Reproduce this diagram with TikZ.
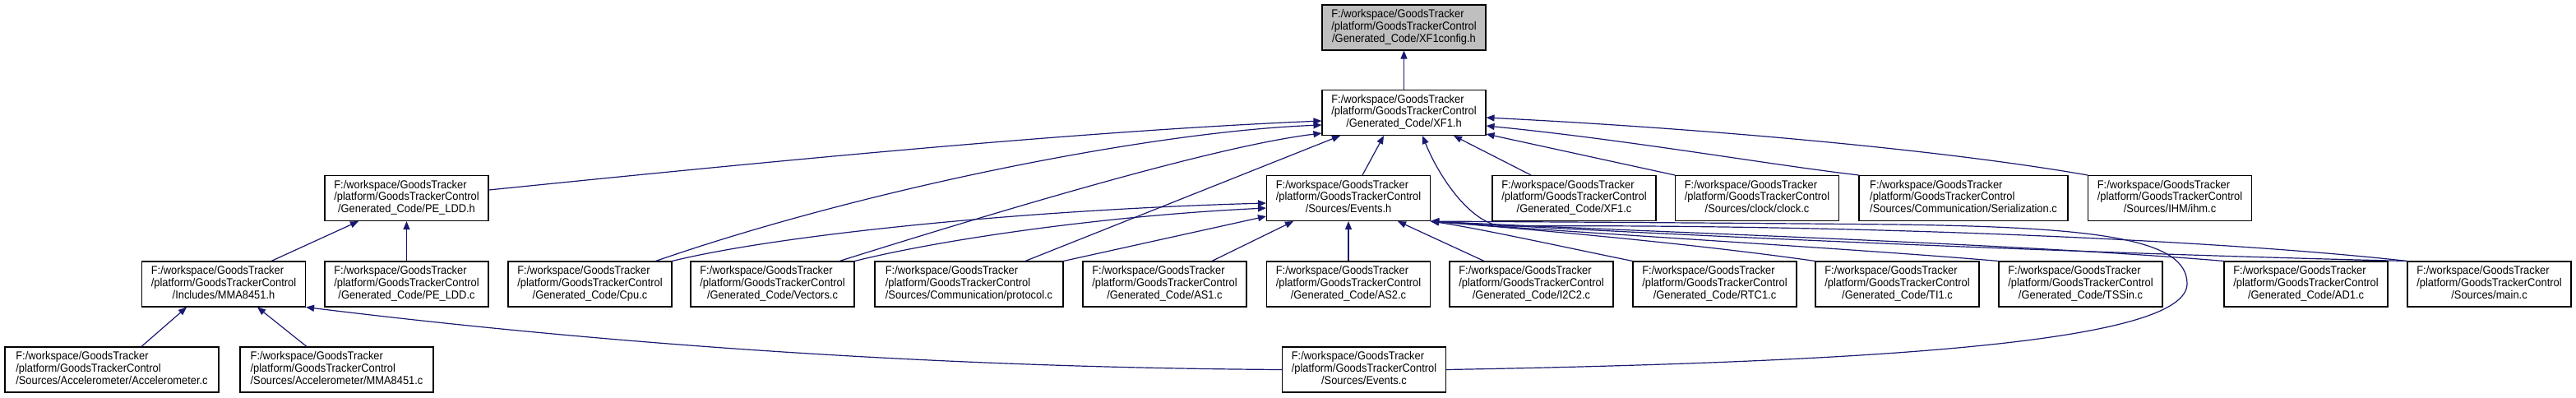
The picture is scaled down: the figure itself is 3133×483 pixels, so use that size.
\documentclass[tikz,border=0pt]{standalone}
\usepackage{fontspec}
\setmainfont{Liberation Sans}[FakeStretch=0.92]
\usetikzlibrary{arrows.meta}
\definecolor{edgeblue}{RGB}{25,25,112}
\definecolor{headgray}{RGB}{191,191,191}
\newcommand\lbl[1]{\begin{tabular}{@{}l@{}}F:/workspace/GoodsTracker\\/platform/GoodsTrackerControl\\\multicolumn{1}{@{}c@{}}{#1}\end{tabular}}
\renewcommand\arraystretch{1}
\begin{document}
\begin{tikzpicture}[x=1pt,y=-1pt,
  filebox/.style={draw=black, line width=1.1pt, fill=white, minimum width=199pt, minimum height=55pt, inner sep=0pt, font=\fontsize{14}{14.7}\selectfont, text=black},
  edge/.style={draw=edgeblue, line width=1.2pt, -{Triangle[length=10pt,width=8pt]}}]
\useasboundingbox[fill=white] (0,0) rectangle (3133,483);
% row 0
\node[filebox, fill=headgray] (cfg) at (1707.5,33.5) {\lbl{/Generated\_Code/XF1config.h}};
% row 1
\node[filebox] (xfh) at (1707.5,137) {\lbl{/Generated\_Code/XF1.h}};
% row 2
\node[filebox] (peh) at (494.5,241) {\lbl{/Generated\_Code/PE\_LDD.h}};
\node[filebox] (evh) at (1640,241) {\lbl{/Sources/Events.h}};
\node[filebox] (xfc) at (1914.5,241) {\lbl{/Generated\_Code/XF1.c}};
\node[filebox] (clk) at (2137,241) {\lbl{/Sources/clock/clock.c}};
\node[filebox, minimum width=254pt] (ser) at (2388,241) {\lbl{/Sources/Communication/Serialization.c}};
\node[filebox] (ihm) at (2639,241) {\lbl{/Sources/IHM/ihm.c}};
% row 3
\node[filebox] (mmh) at (272,345.5) {\lbl{/Includes/MMA8451.h}};
\node[filebox] (pec) at (494.5,345.5) {\lbl{/Generated\_Code/PE\_LDD.c}};
\node[filebox] (cpu) at (717.5,345.5) {\lbl{/Generated\_Code/Cpu.c}};
\node[filebox] (vec) at (939.5,345.5) {\lbl{/Generated\_Code/Vectors.c}};
\node[filebox, minimum width=229pt] (pro) at (1178.5,345.5) {\lbl{/Sources/Communication/protocol.c}};
\node[filebox] (as1) at (1416.5,345.5) {\lbl{/Generated\_Code/AS1.c}};
\node[filebox] (as2) at (1640,345.5) {\lbl{/Generated\_Code/AS2.c}};
\node[filebox] (i2c) at (1862.5,345.5) {\lbl{/Generated\_Code/I2C2.c}};
\node[filebox] (rtc) at (2085.5,345.5) {\lbl{/Generated\_Code/RTC1.c}};
\node[filebox] (ti1) at (2307.5,345.5) {\lbl{/Generated\_Code/TI1.c}};
\node[filebox] (tss) at (2530.5,345.5) {\lbl{/Generated\_Code/TSSin.c}};
\node[filebox] (ad1) at (2804.5,345.5) {\lbl{/Generated\_Code/AD1.c}};
\node[filebox] (mnc) at (3027.5,345.5) {\lbl{/Sources/main.c}};
% row 4
\node[filebox, minimum width=260pt] (acc) at (136,449.5) {\lbl{/Sources/Accelerometer/Accelerometer.c}};
\node[filebox, minimum width=235pt] (mmc) at (409.5,449.5) {\lbl{/Sources/Accelerometer/MMA8451.c}};
\node[filebox] (evc) at (1659,449.5) {\lbl{/Sources/Events.c}};
% edges to XF1config.h
\draw[edge] (xfh.north) -- (cfg.south);
% edges to XF1.h
\draw[edge] ([yshift=10pt]peh.east) .. controls (900,200) and (1300,160) .. ([yshift=-10pt]xfh.west);
\draw[edge] ([xshift=80pt]cpu.north) .. controls (1050,230) and (1400,160) .. ([yshift=-15pt]xfh.west);
\draw[edge] ([xshift=81.5pt]vec.north) .. controls (1300,230) and (1500,175) .. ([yshift=-25pt]xfh.west);
\draw[edge] ([xshift=68.5pt]pro.north) -- ([xshift=-77.5pt]xfh.south);
\draw[edge] ([xshift=17pt]evh.north) -- ([xshift=-24.5pt]xfh.south);
\draw[edge] ([xshift=-52.5pt]xfc.north) -- ([xshift=60.5pt]xfh.south);
\draw[edge] (clk.north west) -- ([yshift=-26pt]xfh.east);
\draw[edge] (ser.north west) .. controls (2150,200) and (1980,170) .. ([yshift=-16pt]xfh.east);
\draw[edge] (ihm.north west) .. controls (2350,180) and (2050,155) .. ([yshift=-6pt]xfh.east);
\draw[edge] (mnc.north west) .. controls (2700,292) and (2250,272) .. (1830,275)
  .. controls (1790,275) and (1750,215) .. ([xshift=22.5pt]xfh.south);
% edges to Events.h
\draw[edge] (cpu.north east) .. controls (950,285) and (1250,255) .. ([yshift=-6pt]evh.west);
\draw[edge] (vec.north east) .. controls (1150,290) and (1350,262) .. ([yshift=-12pt]evh.west);
\draw[edge] (pro.north east) -- ([yshift=-22pt]evh.west);
\draw[edge] ([xshift=57.5pt]as1.north) -- ([xshift=-67pt]evh.south);
\draw[edge] (as2.north) -- (evh.south);
\draw[edge] ([xshift=-57.5pt]i2c.north) -- ([xshift=60pt]evh.south);
\draw[edge] (rtc.north west) .. controls (1900,300) and (1800,278) .. (evh.south east);
\draw[edge] (ti1.north west) .. controls (2050,295) and (1850,278) .. (evh.south east);
\draw[edge] (tss.north west) .. controls (2250,302) and (1900,282) .. (evh.south east);
\draw[edge] (ad1.north west) .. controls (2450,296) and (2000,282) .. (evh.south east);
\draw[edge] (mnc.north west) .. controls (2600,310) and (2100,290) .. (evh.south east);
\draw[edge] (evc.east) .. controls (2300,440) and (2660,415) .. (2660,345)
  .. controls (2660,290) and (2550,276) .. (2300,273)
  .. controls (2100,271) and (1900,270) .. (evh.south east);
% edges to PE_LDD.h
\draw[edge] ([xshift=58pt]mmh.north) -- ([xshift=-58.5pt]peh.south);
\draw[edge] (pec.north) -- (peh.south);
% edges to MMA8451.h
\draw[edge] ([xshift=36pt]acc.north) -- ([xshift=-45pt]mmh.south);
\draw[edge] ([xshift=-36.5pt]mmc.north) -- ([xshift=41pt]mmh.south);
\draw[edge] (evc.west) .. controls (1150,447) and (750,420) .. (mmh.south east);
\end{tikzpicture}
\end{document}
